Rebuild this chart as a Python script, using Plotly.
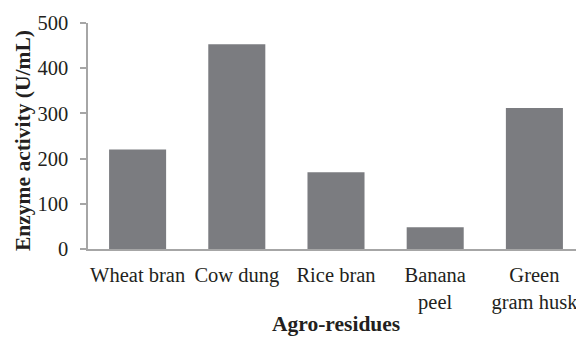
import plotly.graph_objects as go

categories = ["Wheat bran", "Cow dung", "Rice bran", "Banana<br>peel", "Green<br>gram husk"]
activity = [220, 453, 170, 48, 312]
y_ticks = [0, 100, 200, 300, 400, 500]
x_title = "Agro-residues"
y_title = "Enzyme activity (U/mL)"

font_family = "Liberation Serif, Times New Roman, serif"
text_color = "#231f20"
axis_color = "#a6a6a6"
bar_color = "#7b7c80"

fig = go.Figure(
    go.Bar(x=categories, y=activity, marker=dict(color=bar_color, line=dict(width=0)))
)

# page body adds an 8px margin, so the figure is 576x329 placed at (8, 8)
fig.update_layout(
    width=576, height=329,
    margin=dict(l=80, r=0, t=15, b=88),
    paper_bgcolor="white", plot_bgcolor="white",
    bargap=0.425,
    showlegend=False,
    font=dict(family=font_family, size=20.5, color=text_color),
)

fig.update_xaxes(
    showline=True, linecolor=axis_color, linewidth=1.5,
    ticks="", showgrid=False, zeroline=False,
    tickfont=dict(size=20.5),
    ticklabelstandoff=7,
)
fig.update_yaxes(
    range=[0, 500], tickvals=y_ticks,
    showline=True, linecolor=axis_color, linewidth=1.5,
    ticks="outside", ticklen=6, tickcolor=axis_color, tickwidth=1.5,
    showgrid=False, zeroline=False,
    tickfont=dict(size=20.5),
    ticklabelstandoff=8,
)

fig.add_annotation(
    text=f"<b>{x_title}</b>", xref="paper", yref="paper", x=0.5, y=0,
    xanchor="center", yanchor="middle", yshift=-75, showarrow=False,
    font=dict(size=21.5),
)
fig.add_annotation(
    text=f"<b>{y_title}</b>", xref="paper", yref="paper", x=0, y=0.5,
    xanchor="center", yanchor="middle", xshift=-65, yshift=-5, textangle=-90,
    showarrow=False, font=dict(size=21.5),
)

fig.write_html("out.html")
